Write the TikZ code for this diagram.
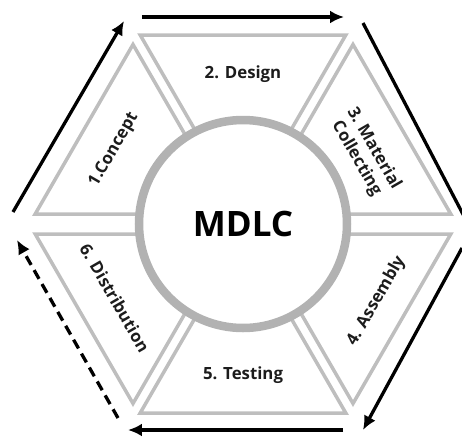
\documentclass[tikz,border=0pt]{standalone}
\usepackage{fontspec}
\setmainfont{Open Sans}
\usetikzlibrary{arrows.meta}
\definecolor{segGray}{RGB}{190,190,190}
\definecolor{ringGray}{RGB}{178,178,178}
\definecolor{labelInk}{RGB}{28,28,28}
\begin{document}
\begin{tikzpicture}[x=1pt,y=1pt,
  seg/.style={draw=segGray, line width=3.5pt, line join=miter},
  flow/.style={draw=black, line width=3.3pt, -{Latex[length=14pt,width=13pt]}},
  plain/.style={draw=black, line width=3.3pt},
  lbl/.style={font=\bfseries\fontsize{16.8}{20}\selectfont, text=labelInk, align=center, inner sep=1pt},
  core/.style={circle, draw=ringGray, line width=8.5pt, fill=white, minimum size=208pt, inner sep=0pt,
    font=\bfseries\fontsize{35}{40}\selectfont, text=black},
]
\useasboundingbox (-243,-213) rectangle (219,224);
\clip (-243,-213) rectangle (219,224);

% six hexagon segments, separated by narrow gaps
\draw[seg] (-102.8,189) -- (102.8,189) -- (0,11) -- cycle;          % design
\draw[seg] (110,179.5) -- (207.8,10) -- (12.1,10) -- cycle;          % material collecting
\draw[seg] (207.8,-10) -- (110,-179.5) -- (12.1,-10) -- cycle;       % assembly
\draw[seg] (102.8,-189) -- (-102.8,-189) -- (0,-11) -- cycle;       % testing
\draw[seg] (-110,-179.5) -- (-207.8,-10) -- (-12.1,-10) -- cycle;    % distribution
\draw[seg] (-207.8,10) -- (-110,179.5) -- (-12.1,10) -- cycle;       % concept

% central hub
\node[core] (hub) at (0,0) {MDLC};

% stage labels
\node[lbl, rotate=60]  (concept)      at (150:149) {1.Concept};
\node[lbl]             (design)       at (90:150)  {2. Design};
\node[lbl, rotate=-60] (material)     at (30:141)  {3. Material\\Collecting};
\node[lbl, rotate=60]  (assembly)     at (-30:154) {4. Assembly};
\node[lbl]             (testing)      at (-90:151) {5. Testing};
\node[lbl, rotate=-60] (distribution) at (210:148) {6. Distribution};

% cycle arrows around the hexagon
\coordinate (a1) at (-230,12);   \coordinate (a2) at (-119,203);
\coordinate (b1) at (-101,207);  \coordinate (b2) at (101,207);
\coordinate (c1) at (120,201);   \coordinate (c2) at (223,4);
\coordinate (d1) at (219,-24);   \coordinate (d2) at (120,-206);
\coordinate (e1) at (100,-206);  \coordinate (e2) at (-115,-206);
\coordinate (f1) at (-125,-194); \coordinate (f2) at (-226,-16);

\draw[flow] (a1) -- (a2);
\draw[flow] (b1) -- (b2);
\draw[plain] (c1) -- (c2);
\draw[flow] (d1) -- (d2);
\draw[flow] (e1) -- (e2);
\draw[flow, dash pattern=on 10pt off 6pt] (f1) -- (f2);
\end{tikzpicture}
\end{document}
